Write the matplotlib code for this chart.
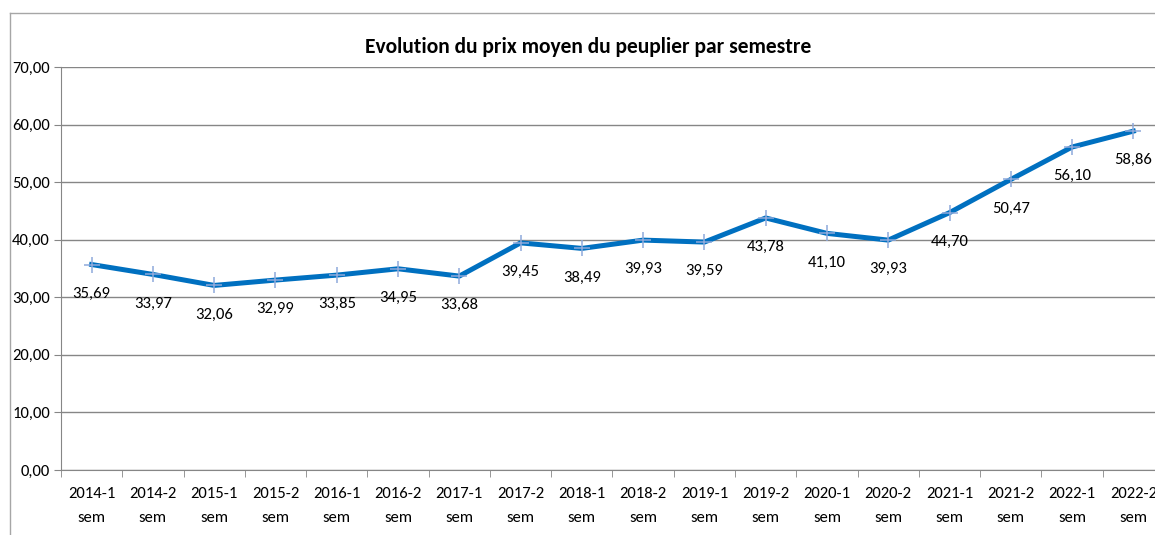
import matplotlib.pyplot as plt
from matplotlib.lines import Line2D

plt.rcParams['font.family'] = ['Carlito', 'DejaVu Sans']

semestres = ["2014-1", "2014-2", "2015-1", "2015-2", "2016-1", "2016-2", "2017-1", "2017-2", "2018-1",
             "2018-2", "2019-1", "2019-2", "2020-1", "2020-2", "2021-1", "2021-2", "2022-1", "2022-2"]
prix = [35.69, 33.97, 32.06, 32.99, 33.85, 34.95, 33.68, 39.45, 38.49,
        39.93, 39.59, 43.78, 41.10, 39.93, 44.70, 50.47, 56.10, 58.86]
yticks = [0, 10, 20, 30, 40, 50, 60, 70]

fig = plt.figure(figsize=(11.55, 5.35), dpi=100)
ax = fig.add_axes([61/1155, 65/535, 1103/1155, 403/535])

x = list(range(len(prix)))
ax.plot(x, prix, color="#0070C0", lw=3.6, zorder=3)
ax.plot(x, prix, ls="none", marker="+", ms=11, mew=1.1, color="#8EA9DB", zorder=4)

for xi, v in zip(x, prix):
    ax.annotate(f"{v:.2f}".replace(".", ","), (xi, v), xytext=(0, -21), textcoords="offset points",
                ha="center", va="center", fontsize=12, color="#000000")

ax.set_xlim(-0.5, len(prix) - 0.5)
ax.set_ylim(0, 70)
ax.set_yticks(yticks)
ax.set_yticklabels([f"{t:.2f}".replace(".", ",") for t in yticks], fontsize=12)
ax.yaxis.grid(True, color="#868686", lw=1)
ax.set_axisbelow(True)

ax.set_xticks(x)
ax.set_xticklabels([s + "\nsem" for s in semestres], fontsize=12, linespacing=1.95)
ax.set_xticks([i + 0.5 for i in range(-1, len(prix))], minor=True)
ax.tick_params(axis="x", which="major", length=0, pad=12)
ax.tick_params(axis="x", which="minor", length=5, color="#868686")
ax.tick_params(axis="y", length=5, color="#868686", pad=3)

for s in ["top", "right"]:
    ax.spines[s].set_visible(False)
for s in ["left", "bottom"]:
    ax.spines[s].set_color("#868686")

fig.text(588/1155, 1 - 47/535, "Evolution du prix moyen du peuplier par semestre",
         ha="center", va="center", fontsize=15.5, fontweight="bold")

# cadre du graphique
fig.add_artist(Line2D([10/1155, 1], [1 - 13/535, 1 - 13/535], color="#A6A6A6", lw=1))
fig.add_artist(Line2D([10/1155, 10/1155], [0, 1 - 13/535], color="#A6A6A6", lw=1))

fig.savefig("out.png", dpi=100)
